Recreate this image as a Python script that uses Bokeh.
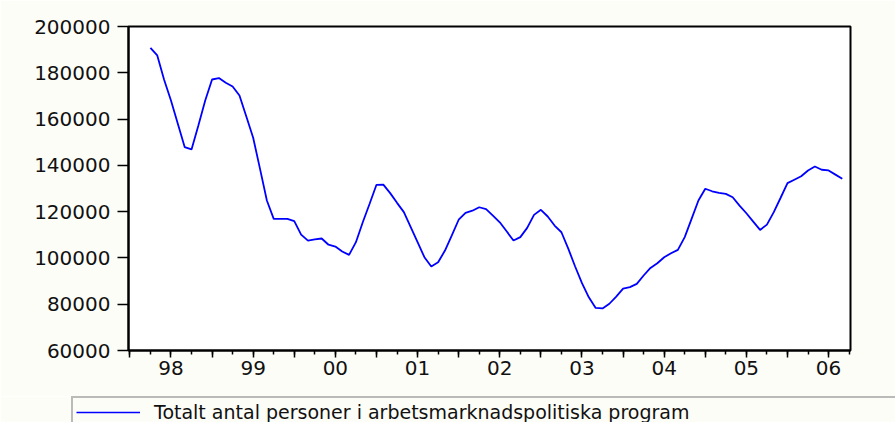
from bokeh.plotting import figure
from bokeh.layouts import column
from bokeh.models import (ColumnDataSource, Range1d, FixedTicker, Legend, LegendItem,
                          BasicTickFormatter)
from bokeh.embed import file_html
from bokeh.resources import INLINE

# Monthly data, April 1998 .. September 2006 (month index from Jan 1998)
start_month_index = 3
values = [
    190800, 187500, 177000, 168000, 158000, 147900, 146900, 157200, 168000, 177100,
    177700, 175700, 174100, 170200, 161100, 151900, 138500, 124800, 116900, 116900,
    116900, 115900, 110100, 107500, 108000, 108400, 105700, 104900, 102800, 101300,
    106800, 115400, 123400, 131600, 131700, 128000, 123800, 119800, 113300, 106800,
    100300, 96300, 98100, 103200, 109700, 116500, 119500, 120400, 121900, 121100,
    118300, 115400, 111500, 107500, 109000, 113000, 118600, 120800, 117900, 114000,
    111100, 104000, 96300, 89100, 83000, 78400, 78200, 80200, 83300, 86700,
    87400, 88800, 92400, 95700, 97700, 100300, 102000, 103500, 109000, 116900,
    124800, 129900, 128800, 128100, 127700, 126200, 122600, 119300, 115700, 112100,
    114400, 119800, 126000, 132300, 133800, 135300, 137800, 139500, 138100, 137800,
    136000, 134200,
]
months = list(range(start_month_index, start_month_index + len(values)))

year_labels = ["98", "99", "00", "01", "02", "03", "04", "05", "06"]
y_ticks = [60000, 80000, 100000, 120000, 140000, 160000, 180000, 200000]
series_label = "Totalt antal personer i arbetsmarknadspolitiska program"

BG = "#FDFDF8"
FONT = "DejaVu Sans"
LINE_COLOR = "#0000FF"

src = ColumnDataSource(dict(x=months, y=values))

# ---- main chart ----
p = figure(width=895, height=396, output_backend="svg", toolbar_location=None,
           x_range=Range1d(-0.2, 105.2), y_range=Range1d(60000, 200000),
           min_border_left=128, min_border_right=45, min_border_top=26,
           min_border_bottom=46)
p.frame_align = False
p.background_fill_color = "white"
p.border_fill_color = BG
p.outline_line_color = "black"
p.outline_line_width = 2
p.grid.visible = False

p.line("x", "y", source=src, line_color=LINE_COLOR, line_width=1.8)

# x axis: major ticks every half year, minor every quarter, labels at mid-year
major = list(range(0, 106, 6))
minor = list(range(0, 106, 3))
p.xaxis.ticker = FixedTicker(ticks=major, minor_ticks=minor)
overrides = {m: "" for m in major}
for i, lab in enumerate(year_labels):
    overrides[6 + 12 * i] = lab
p.xaxis.major_label_overrides = overrides
p.xaxis.major_tick_in = 0
p.xaxis.major_tick_out = 7
p.xaxis.minor_tick_in = 0
p.xaxis.minor_tick_out = 4
p.xaxis.major_label_standoff = 3

p.yaxis.ticker = FixedTicker(ticks=y_ticks, minor_ticks=[])
p.yaxis.formatter = BasicTickFormatter(use_scientific=False)
p.yaxis.major_tick_in = 0
p.yaxis.major_tick_out = 11
p.yaxis.major_label_standoff = 7

for ax in (p.xaxis[0], p.yaxis[0]):
    ax.axis_line_color = "black"
    ax.axis_line_width = 2
    ax.major_tick_line_color = "black"
    ax.major_tick_line_width = 1.5
    ax.minor_tick_line_color = "black"
    ax.minor_tick_line_width = 1.5
    ax.major_label_text_font = FONT
    ax.major_label_text_font_size = "20px"
    ax.major_label_text_color = "#111111"

# ---- legend strip ----
p2 = figure(width=895, height=26, output_backend="svg", toolbar_location=None,
            x_axis_location=None, y_axis_location=None,
            x_range=Range1d(-0.2, 105.2), y_range=Range1d(60000, 200000),
            min_border_left=71, min_border_right=0, min_border_top=0,
            min_border_bottom=0)
p2.frame_align = False
p2.background_fill_color = BG
p2.border_fill_color = BG
p2.outline_line_color = None
p2.grid.visible = False
r2 = p2.line("x", "y", source=src, line_color=LINE_COLOR, line_width=1.4, visible=False)

legend = Legend(items=[LegendItem(label=series_label, renderers=[r2])],
                location="top_left", orientation="vertical")
legend.click_policy = "none"
legend.border_line_color = "#777777"
legend.border_line_width = 2
legend.background_fill_color = BG
legend.background_fill_alpha = 1
legend.padding = 3
legend.margin = 0
legend.glyph_width = 64
legend.glyph_height = 18
legend.label_width = 800
legend.label_standoff = 14
legend.label_text_font = FONT
legend.label_text_font_size = "19px"
legend.label_text_color = "#111111"
p2.add_layout(legend, "center")

page = column(p, p2, spacing=0)
open("out.html", "w").write(file_html(page, INLINE))
